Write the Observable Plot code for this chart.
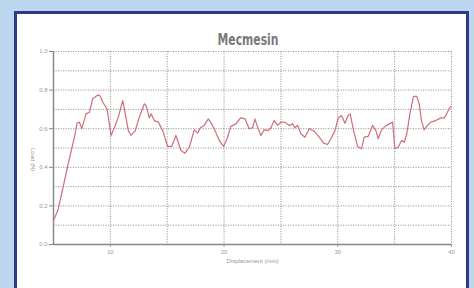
<!DOCTYPE html>
<html>
<head>
<meta charset="utf-8">
<script src="https://cdn.jsdelivr.net/npm/d3@7"></script>
<script src="https://cdn.jsdelivr.net/npm/@observablehq/plot@0.6"></script>
<style>
  html, body { margin: 0; padding: 0; }
  body { width: 474px; height: 288px; background: #bed7f1; position: relative; overflow: hidden; font-family: "Liberation Sans", Arial, sans-serif; }
  #panel { position: absolute; left: 14px; top: 11px; width: 455px; height: 300px; background: #fff; border: 3px solid #2c3b82; box-sizing: border-box; }
  #title { position: absolute; left: 0; width: 496px; top: 31px; text-align: center; }
  #title span { display: inline-block; font-family: "DejaVu Sans Condensed", "DejaVu Sans", sans-serif; font-weight: bold; font-size: 15px; color: #7a7a7a; transform: scaleX(0.8); }
  #chart { position: absolute; left: 0; top: 0; }
</style>
</head>
<body>
<div id="panel"></div>
<div id="title"><span>Mecmesin</span></div>
<div id="chart"></div>
<script>
const displacement = [5.0,5.38,5.67,6.26,6.84,7.07,7.28,7.49,7.86,8.16,8.45,8.9,9.1,9.33,9.71,10.06,10.35,10.7,11.09,11.29,11.58,11.82,12.17,12.55,12.99,13.14,13.43,13.58,13.87,14.22,14.6,15.04,15.4,15.77,16.21,16.56,16.94,17.38,17.68,17.91,18.26,18.61,18.91,19.2,19.58,19.96,20.26,20.6,21.05,21.45,21.84,22.21,22.51,22.71,22.95,23.24,23.53,23.88,24.12,24.41,24.71,25.0,25.35,25.73,26.03,26.23,26.47,26.76,27.11,27.49,27.93,28.37,28.75,29.1,29.39,29.75,30.04,30.33,30.63,30.91,31.09,31.39,31.74,32.09,32.32,32.67,33.06,33.35,33.55,33.85,34.14,34.52,34.82,35.02,35.31,35.61,35.84,36.07,36.36,36.66,36.95,37.16,37.36,37.59,37.89,38.18,38.62,39.06,39.35,39.5,39.79,39.94];
const load = [0.124,0.176,0.25,0.41,0.556,0.628,0.634,0.60,0.677,0.685,0.755,0.775,0.77,0.737,0.703,0.565,0.605,0.66,0.746,0.685,0.59,0.565,0.587,0.66,0.729,0.72,0.656,0.677,0.642,0.634,0.59,0.508,0.508,0.565,0.487,0.473,0.504,0.594,0.577,0.605,0.617,0.651,0.625,0.59,0.539,0.508,0.548,0.612,0.625,0.656,0.651,0.60,0.605,0.651,0.608,0.565,0.594,0.59,0.605,0.642,0.617,0.634,0.634,0.617,0.625,0.605,0.617,0.574,0.556,0.60,0.587,0.556,0.525,0.518,0.548,0.59,0.656,0.668,0.628,0.668,0.677,0.59,0.508,0.496,0.556,0.56,0.617,0.59,0.548,0.594,0.611,0.625,0.634,0.496,0.504,0.539,0.530,0.574,0.685,0.767,0.767,0.729,0.642,0.594,0.617,0.634,0.642,0.656,0.656,0.668,0.703,0.715];
const yTicks = [0.0, 0.2, 0.4, 0.6, 0.8, 1.0];
const yGrid = [0.1, 0.2, 0.3, 0.4, 0.5, 0.6, 0.7, 0.8, 0.9, 1.0];
const xTicks = [10, 20, 30, 40];
const xGrid = [10, 15, 20, 25, 30, 35, 40];
const xLabel = "Displacement (mm)";
const yLabel = "Load (N)";

const data = displacement.map((x, i) => ({x, y: load[i]}));

const chart = Plot.plot({
  width: 474,
  height: 288,
  marginLeft: 53,
  marginRight: 23,
  marginTop: 51,
  marginBottom: 44,
  style: {background: "transparent", fontFamily: "Liberation Sans, Arial, sans-serif", fontSize: "6px", color: "#777"},
  x: {domain: [5, 40]},
  y: {domain: [0, 1]},
  marks: [
    Plot.gridY(yGrid, {stroke: "#888", strokeOpacity: 0.85, strokeDasharray: "1.2,1.3", strokeWidth: 1}),
    Plot.gridX(xGrid, {stroke: "#888", strokeOpacity: 0.85, strokeDasharray: "1.2,1.3", strokeWidth: 1}),
    Plot.ruleY([0], {stroke: "#888", strokeWidth: 1.5}),
    Plot.ruleX([5], {stroke: "#888", strokeWidth: 1.5}),
    Plot.axisY(yTicks, {tickSize: 4, tickPadding: 2, tickFormat: d3.format(".1f"), stroke: "#888", fill: "#999", label: null}),
    Plot.axisX(xTicks, {tickSize: 3, tickPadding: 2, stroke: "#999", fill: "#999", label: xLabel, labelAnchor: "center", labelArrow: "none", labelOffset: 18}),
    Plot.text([yLabel], {text: d => d, frameAnchor: "left", dx: -21, rotate: 90, fill: "#999", fontSize: 6, letterSpacing: "1px"}),
    Plot.line(data, {x: "x", y: "y", stroke: "#cd6f7a", strokeWidth: 1.2})
  ]
});
document.getElementById("chart").appendChild(chart);
</script>
</body>
</html>
